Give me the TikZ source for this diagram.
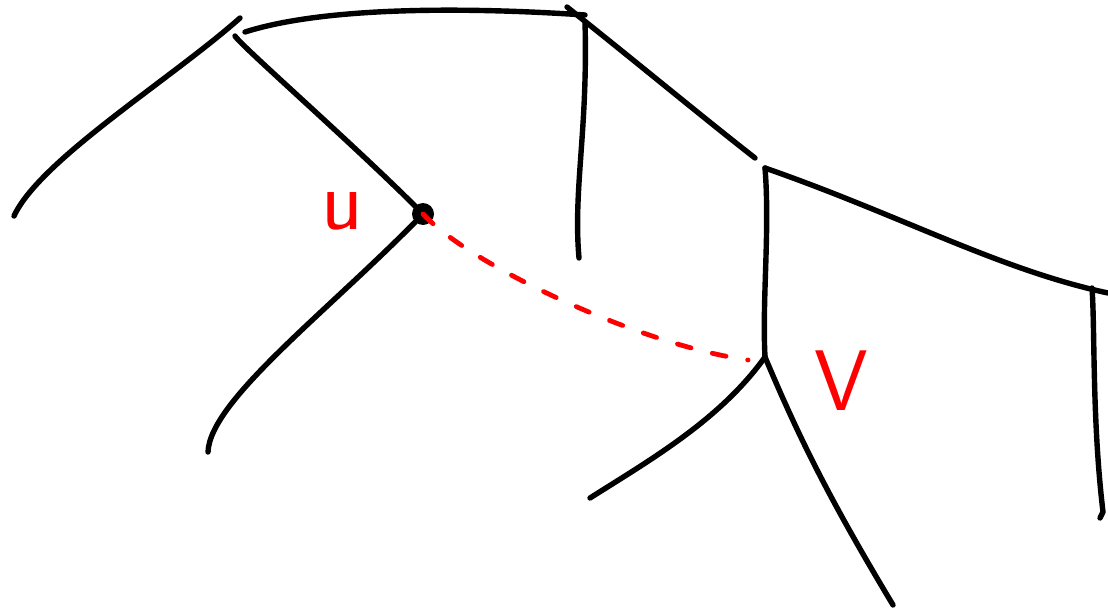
\documentclass[tikz,border=0pt]{standalone}
\begin{document}
\begin{tikzpicture}[x=1pt,y=-1pt,
  edge/.style={line width=5.4pt,line cap=round,line join=round},
  reddash/.style={red,line width=4.8pt,line cap=round,dash pattern=on 14pt off 22pt},
  lbl/.style={red,font=\sffamily\fontsize{86}{86}\selectfont,inner sep=0pt}]
\useasboundingbox (0,0) rectangle (1108,613);
% named points
\coordinate (a1) at (240,18);
\coordinate (leafL) at (14,216);
\coordinate (a2) at (245,32);
\coordinate (a3) at (235,36);
\coordinate (c1) at (567,7);
\coordinate (c2) at (585,15);
\coordinate (c3) at (585,22);
\coordinate (leafC) at (579,258);
\coordinate (d1) at (755,158);
\coordinate (d2) at (765,168);
\coordinate (leafR) at (1108,293);
\coordinate (vv) at (765,357);
\coordinate (leafV1) at (590,498);
\coordinate (leafV2) at (893,605);
\coordinate (e1) at (1092,288);
\coordinate (leafE) at (1100,518);
\coordinate (leafU) at (208,452);
\coordinate (vend) at (748,360);
\node[circle,fill=black,minimum size=22pt,inner sep=0pt] (u) at (423,214) {};
% edges
\draw[edge] (a1) .. controls (170,80) and (40,160) .. (leafL);
\draw[edge] (a2) .. controls (330,5) and (480,8) .. (c2);
\draw[edge] (a3) .. controls (240,45) and (360,150) .. (u.center);
\draw[edge] (u.center) .. controls (330,310) and (210,400) .. (leafU);
\draw[edge] (c3) .. controls (588,130) and (573,190) .. (leafC);
\draw[edge] (c1) .. controls (640,65) and (700,115) .. (d1);
\draw[edge] (d2) .. controls (900,215) and (1000,270) .. (leafR);
\draw[edge] (d2) .. controls (770,230) and (762,300) .. (vv);
\draw[edge] (vv) .. controls (720,420) and (650,460) .. (leafV1);
\draw[edge] (vv) .. controls (800,440) and (830,500) .. (leafV2);
\draw[edge] (e1) .. controls (1095,330) and (1092,420) .. (1103,512) -- (leafE);
% dashed red link
\draw[reddash] (u.center) .. controls (470,265) and (640,345) .. (vend);
% labels
\node[lbl] (lu) at (342,211) {u};
\node[lbl] (lv) at (841,381) {V};
\end{tikzpicture}
\end{document}
